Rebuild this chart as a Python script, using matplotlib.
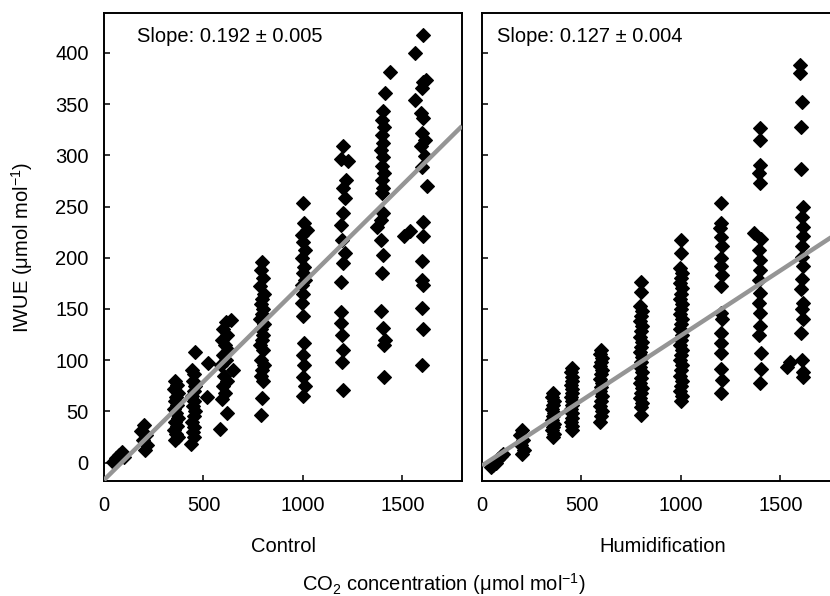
import matplotlib
matplotlib.use("Agg")
import matplotlib.pyplot as plt
import numpy as np

plt.rcParams["font.family"] = ["Liberation Sans", "DejaVu Sans"]
plt.rcParams["mathtext.fontset"] = "custom"
plt.rcParams["mathtext.rm"] = "Liberation Sans"
plt.rcParams["mathtext.it"] = "Liberation Sans:italic"
plt.rcParams["mathtext.bf"] = "Liberation Sans:bold"

# ---- Control: CO2 (umol/mol) and IWUE (umol/mol), grouped by CO2 step ----
ctrl_co2_50 = [45, 60, 75, 90, 100]
ctrl_iwue_50 = [1, 4, 7, 10, 5]
ctrl_co2_200 = [200, 185, 210, 195, 215, 205]
ctrl_iwue_200 = [37, 31, 27, 22, 17, 12]
ctrl_co2_360 = [355, 365, 350, 370, 360, 355, 365, 350, 360, 370, 355, 365, 350, 360, 370, 355]
ctrl_iwue_360 = [80, 76, 72, 68, 64, 60, 56, 52, 48, 44, 40, 36, 32, 28, 25, 22]
ctrl_co2_450 = [460, 440, 455, 445, 460, 450, 440, 455, 445, 460, 450, 440, 455, 445, 450, 435, 523, 520]
ctrl_iwue_450 = [108, 90, 86, 80, 75, 70, 65, 60, 55, 50, 45, 40, 35, 30, 25, 18, 97, 64]
ctrl_co2_600 = [640, 615, 600, 620, 595, 610, 625, 600, 615, 650, 590, 605, 620, 600, 610, 595, 618, 583]
ctrl_iwue_600 = [139, 137, 130, 125, 120, 115, 110, 105, 100, 90, 95, 85, 80, 75, 68, 62, 48, 33]
ctrl_co2_800 = [795, 790, 800, 785, 805, 795, 790, 800, 795, 785, 805, 790, 800, 795, 785, 800, 790, 805, 795, 790, 800, 795, 790]
ctrl_iwue_800 = [196, 188, 180, 172, 165, 160, 155, 150, 145, 140, 135, 130, 125, 120, 115, 110, 100, 95, 90, 85, 80, 63, 46]
ctrl_co2_1000 = [1000, 1005, 1020, 995, 1000, 1010, 995, 1005, 1000, 1010, 995, 1000, 995, 1000, 1005, 1000, 1005, 1000, 1010, 1000]
ctrl_iwue_1000 = [253, 234, 227, 222, 215, 208, 200, 191, 185, 178, 173, 165, 156, 143, 117, 105, 95, 84, 75, 65]
ctrl_co2_1200 = [1200, 1190, 1226, 1215, 1200, 1210, 1200, 1190, 1195, 1210, 1200, 1190, 1190, 1190, 1195, 1200, 1195, 1200]
ctrl_iwue_1200 = [309, 296, 294, 276, 268, 258, 244, 232, 217, 205, 195, 176, 147, 136, 125, 110, 98, 71]
ctrl_co2_1400 = [1437, 1412, 1405, 1400, 1410, 1400, 1405, 1395, 1405, 1400, 1410, 1400, 1405, 1400, 1405, 1372,
                 1395, 1395, 1405, 1400, 1395, 1405, 1415, 1410, 1410]
ctrl_iwue_1400 = [381, 361, 343, 335, 328, 320, 312, 305, 298, 290, 283, 276, 268, 263, 244, 230,
                  237, 217, 203, 185, 148, 131, 120, 115, 84]
ctrl_co2_1600 = [1605, 1565, 1605, 1620, 1600, 1565, 1595, 1605, 1600, 1615, 1595, 1615, 1600, 1625,
                 1605, 1605, 1600, 1600, 1605, 1510, 1537, 1600, 1605, 1600]
ctrl_iwue_1600 = [418, 400, 372, 374, 366, 354, 341, 336, 322, 315, 309, 299, 289, 270,
                  235, 221, 197, 178, 173, 221, 226, 151, 130, 95]

# ---- Humidification ----
hum_co2_50 = [45, 55, 70, 80, 95, 105]
hum_iwue_50 = [-4, -2, 0, 3, 6, 8]
hum_co2_200 = [200, 190, 205, 195, 210, 200]
hum_iwue_200 = [32, 27, 22, 17, 12, 8]
hum_co2_360 = [355, 350, 360, 355, 350, 360, 355, 350, 360, 355, 350, 360, 355]
hum_iwue_360 = [68, 64, 60, 56, 52, 48, 45, 42, 38, 35, 32, 28, 25]
hum_co2_450 = [450, 445, 455, 450, 445, 455, 450, 445, 455, 450, 445, 455, 450, 445, 455, 450]
hum_iwue_450 = [92, 88, 84, 80, 76, 72, 68, 64, 60, 56, 52, 48, 44, 40, 36, 32]
hum_co2_600 = [600, 595, 605, 600, 595, 605, 600, 595, 605, 600, 595, 605, 600, 595, 605, 600, 595]
hum_iwue_600 = [110, 106, 102, 98, 94, 90, 86, 82, 78, 74, 70, 65, 60, 55, 50, 45, 40]
hum_co2_800 = [800, 800, 795, 805, 800, 795, 805, 800, 795, 805, 800, 795, 805, 800, 795, 805, 800, 795,
               805, 800, 795, 805, 800, 800]
hum_iwue_800 = [176, 167, 153, 148, 143, 138, 133, 128, 123, 118, 113, 108, 103, 98, 93, 88, 83, 78,
                73, 68, 63, 58, 54, 46]
hum_co2_1000 = [1000, 1000, 995, 1005, 1000, 995, 1005, 1000, 995, 1005, 1000, 995, 1005, 1000, 995,
                1005, 1000, 995, 1005, 1000, 995, 1005, 1000, 995, 1005, 1000, 995, 1005, 1000]
hum_iwue_1000 = [217, 205, 190, 185, 180, 175, 170, 165, 160, 155, 150, 145, 140, 135, 130,
                 125, 120, 115, 110, 105, 100, 95, 90, 85, 80, 75, 70, 65, 60]
hum_co2_1200 = [1200, 1200, 1195, 1200, 1205, 1200, 1200, 1205, 1200, 1200, 1205, 1200, 1200, 1200, 1200, 1205, 1200]
hum_iwue_1200 = [253, 234, 229, 220, 211, 200, 192, 183, 172, 146, 140, 127, 117, 107, 91, 81, 68]
hum_co2_1400 = [1400, 1400, 1400, 1395, 1400, 1370, 1405, 1395, 1400, 1400, 1395, 1400, 1395, 1400,
                1400, 1395, 1405, 1405, 1400]
hum_iwue_1400 = [327, 315, 291, 283, 273, 224, 218, 208, 198, 188, 178, 166, 156, 146,
                 133, 125, 107, 91, 78]
hum_co2_1600 = [1600, 1600, 1610, 1605, 1605, 1615, 1610, 1612, 1615, 1610, 1610, 1612, 1610, 1605,
                1615, 1610, 1615, 1605, 1548, 1535, 1610, 1615, 1612]
hum_iwue_1600 = [388, 380, 352, 328, 287, 250, 240, 230, 221, 211, 201, 192, 179, 169,
                 156, 150, 140, 127, 98, 93, 100, 88, 84]

ctrl_co2 = (ctrl_co2_50 + ctrl_co2_200 + ctrl_co2_360 + ctrl_co2_450 + ctrl_co2_600 + ctrl_co2_800
            + ctrl_co2_1000 + ctrl_co2_1200 + ctrl_co2_1400 + ctrl_co2_1600)
ctrl_iwue = (ctrl_iwue_50 + ctrl_iwue_200 + ctrl_iwue_360 + ctrl_iwue_450 + ctrl_iwue_600 + ctrl_iwue_800
             + ctrl_iwue_1000 + ctrl_iwue_1200 + ctrl_iwue_1400 + ctrl_iwue_1600)
hum_co2 = (hum_co2_50 + hum_co2_200 + hum_co2_360 + hum_co2_450 + hum_co2_600 + hum_co2_800
           + hum_co2_1000 + hum_co2_1200 + hum_co2_1400 + hum_co2_1600)
hum_iwue = (hum_iwue_50 + hum_iwue_200 + hum_iwue_360 + hum_iwue_450 + hum_iwue_600 + hum_iwue_800
            + hum_iwue_1000 + hum_iwue_1200 + hum_iwue_1400 + hum_iwue_1600)

# regression fits (slope, its standard error, intercept)
ctrl_slope, ctrl_slope_se, ctrl_intercept = 0.192, 0.005, -17.0
hum_slope, hum_slope_se, hum_intercept = 0.127, 0.004, -3.0

panel_names = ["Control", "Humidification"]
x_ticks = [0, 500, 1000, 1500]
y_ticks = [0, 50, 100, 150, 200, 250, 300, 350, 400]

fig = plt.figure(figsize=(8.30, 5.96), dpi=100)
W, H = 830, 596
ax_h = (481 - 13) / H
ax_w = 358 / W
ax1 = fig.add_axes([104 / W, (H - 481) / H, ax_w, ax_h])
ax2 = fig.add_axes([482 / W, (H - 481) / H, ax_w, ax_h])

panels = [
    (ax1, ctrl_co2, ctrl_iwue, ctrl_slope, ctrl_slope_se, ctrl_intercept, 0.092),
    (ax2, hum_co2, hum_iwue, hum_slope, hum_slope_se, hum_intercept, 0.042),
]

for ax, xs, ys, b, se, a, tx in panels:
    ax.plot(xs, ys, linestyle="none", marker="D", markersize=7.0,
            markerfacecolor="black", markeredgecolor="black", markeredgewidth=0.8, zorder=2)
    xl = np.array([0, 1800])
    ax.plot(xl, a + b * xl, color="#959595", linewidth=3.2, solid_capstyle="butt", zorder=3)
    ax.set_xlim(0, 1800)
    ax.set_ylim(-18, 439)
    ax.set_xticks(x_ticks)
    ax.set_yticks(y_ticks)
    ax.tick_params(direction="in", length=4.5, width=1.1, labelsize=14.5, pad=11, color="black")
    for sp in ax.spines.values():
        sp.set_linewidth(1.4)
        sp.set_color("black")
    ax.text(tx, 0.949, f"Slope: {b:.3f} ± {se:.3f}", transform=ax.transAxes,
            ha="left", va="center", fontsize=14.5)

ax2.tick_params(axis="y", labelleft=False)

fig.text(283 / W, 1 - 547 / H, panel_names[0], ha="center", va="center", fontsize=14.5)
fig.text(663 / W, 1 - 546 / H, panel_names[1], ha="center", va="center", fontsize=14.5)
fig.text(444 / W, 1 - 584 / H, r"CO$_2$ concentration (μmol mol$^{-1}$)",
         ha="center", va="center", fontsize=14.5)
fig.text(22 / W, 1 - 247 / H, r"IWUE (μmol mol$^{-1}$)", ha="center", va="center",
         rotation=90, fontsize=14.5)

fig.savefig("out.png", dpi=100)
